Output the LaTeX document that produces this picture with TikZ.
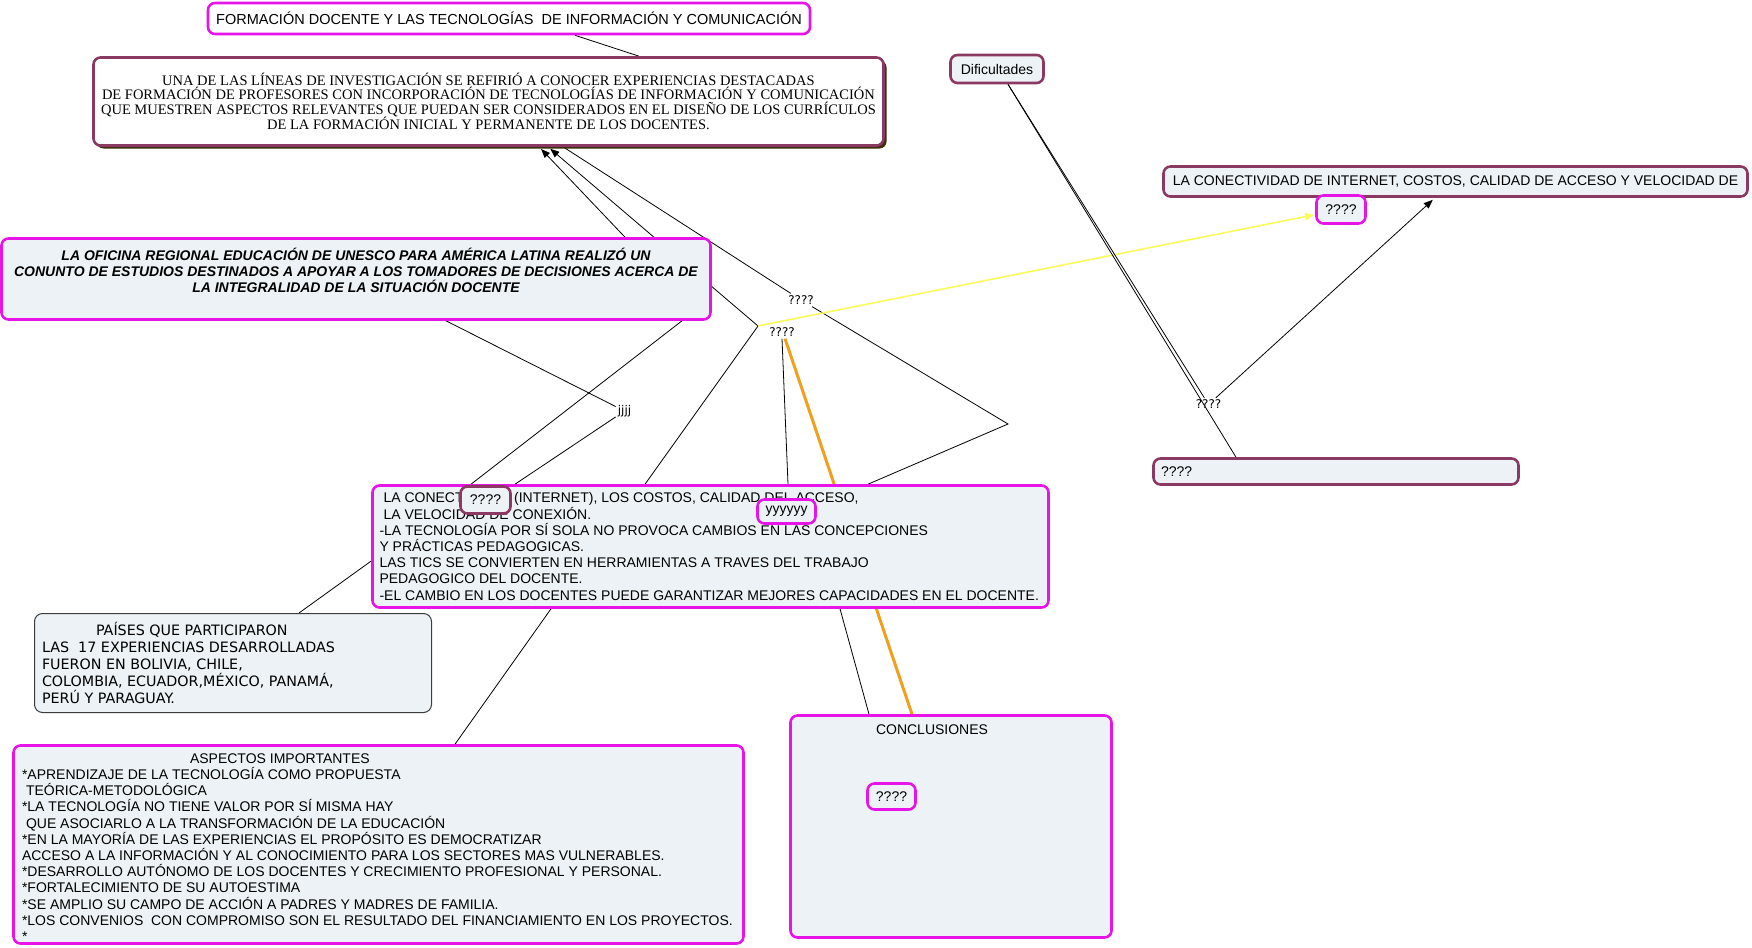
\documentclass[tikz,border=0pt]{standalone}
\usepackage{fontspec}
\setmainfont{Liberation Sans}
\newfontfamily\mapserif{Liberation Serif}
\newfontfamily\mapverdana{DejaVu Sans}
\usetikzlibrary{arrows.meta,shadows}
\definecolor{magborder}{RGB}{230,20,230}
\definecolor{marborder}{RGB}{139,56,98}
\definecolor{boxfill}{RGB}{236,242,245}
\definecolor{sombra}{RGB}{58,48,12}
\definecolor{naranja}{RGB}{240,160,30}
\definecolor{amarillo}{RGB}{250,250,90}
\definecolor{grisborde}{RGB}{60,60,60}
\pgfdeclarelayer{background}
\pgfsetlayers{background,main}
\newcommand{\mapfont}{\fontsize{14}{16.2}\selectfont}
\begin{document}
\begin{tikzpicture}[x=1pt, y=-1pt, line join=round, line cap=round, >={Triangle[length=9pt,width=7pt]},
	magbox/.style={draw=magborder, line width=2.6pt, rounded corners=7pt, fill=boxfill, inner sep=0pt, font=\mapfont},
	marbox/.style={draw=marborder, line width=2.6pt, rounded corners=7pt, fill=boxfill, inner sep=0pt, font=\mapfont},
	enlace/.style={font=\fontsize{12}{14}\selectfont\mapverdana, inner sep=2pt},
	link/.style={line width=0.8pt}]
	\useasboundingbox (0,0) rectangle (1752,947);
	\node[magbox, fill=white, minimum width=602pt, minimum height=31pt, font=\fontsize{14.5}{16}\selectfont] (titulo) at (509,18.5) {FORMACIÓN DOCENTE Y LAS TECNOLOGÍAS\ \ DE INFORMACIÓN Y COMUNICACIÓN};
	\node[marbox, fill=white, minimum width=790pt, minimum height=88pt, align=center, font=\mapserif\fontsize{14.5}{14.3}\selectfont,
		drop shadow={shadow xshift=3pt, shadow yshift=-3pt, opacity=1, fill=sombra}] (principal) at (488.5,101.5)
		{UNA DE LAS LÍNEAS DE INVESTIGACIÓN SE REFIRIÓ A CONOCER EXPERIENCIAS DESTACADAS\\
		DE FORMACIÓN DE PROFESORES CON INCORPORACIÓN DE TECNOLOGÍAS DE INFORMACIÓN Y COMUNICACIÓN\\
		QUE MUESTREN ASPECTOS RELEVANTES QUE PUEDAN SER CONSIDERADOS EN EL DISEÑO DE LOS CURRÍCULOS\\
		DE LA FORMACIÓN INICIAL Y PERMANENTE DE LOS DOCENTES.};
	\node[marbox, minimum width=93pt, minimum height=28pt] (dificultades) at (997,69) {Dificultades};
	\node[marbox, minimum width=584pt, minimum height=30pt] (conectividad) at (1455.5,181.5) {LA CONECTIVIDAD DE INTERNET, COSTOS, CALIDAD DE ACCESO Y VELOCIDAD DE};
	\node[magbox, minimum width=49pt, minimum height=28pt] (preguntaTop) at (1341,209.5) {????};
	\node[magbox, minimum width=709pt, minimum height=81pt, font=\mapfont\bfseries\itshape] (oficina) at (356,279)
		{\parbox[c][62pt][t]{700pt}{\centering LA OFICINA REGIONAL EDUCACIÓN DE UNESCO PARA AMÉRICA LATINA REALIZÓ UN\\
		CONUNTO DE ESTUDIOS DESTINADOS A APOYAR A LOS TOMADORES DE DECISIONES ACERCA DE\\
		LA INTEGRALIDAD DE LA SITUACIÓN DOCENTE}};
	\node[enlace] (enlaceA) at (801,300) {????};
	\node[enlace] (enlaceB) at (782,332) {????};
	\node[enlace] (enlaceJ) at (624.5,411) {jjjj};
	\node[enlace] (enlaceC) at (1208.5,404.5) {????};
	\coordinate (nodoB) at (758,326);
	\coordinate (codo) at (1008,424);
	\node[marbox, minimum width=365pt, minimum height=26pt] (preguntaDer) at (1336,471.5) {\parbox{350pt}{????}};
	\node[magbox, minimum width=676pt, minimum height=122pt] (hallazgos) at (710.5,546.5)
		{\parbox{662pt}{\raggedright
		\hspace*{4pt}LA CONECTIVIDAD (INTERNET), LOS COSTOS, CALIDAD DEL ACCESO,\\
		\hspace*{4pt}LA VELOCIDAD DE CONEXIÓN.\\
		-LA TECNOLOGÍA POR SÍ SOLA NO PROVOCA CAMBIOS EN LAS CONCEPCIONES\\
		Y PRÁCTICAS PEDAGOGICAS.\\
		LAS TICS SE CONVIERTEN EN HERRAMIENTAS A TRAVES DEL TRABAJO\\
		PEDAGOGICO DEL DOCENTE.\\
		-EL CAMBIO EN LOS DOCENTES PUEDE GARANTIZAR MEJORES CAPACIDADES EN EL DOCENTE.}};
	\node[marbox, minimum width=50pt, minimum height=27pt] (preguntaMed) at (485.5,500) {????};
	\node[magbox, minimum width=58pt, minimum height=24pt] (yyy) at (786.5,511.5) {yyyyyy};
	\node[draw=grisborde, line width=1pt, rounded corners=8pt, fill=boxfill, inner sep=0pt, minimum width=397pt, minimum height=99pt,
		font=\mapverdana\fontsize{14.3}{17.2}\selectfont] (paises) at (233,663)
		{\parbox{382pt}{\raggedright
		\hspace*{54pt}PAÍSES QUE PARTICIPARON\\
		LAS\ \ 17 EXPERIENCIAS DESARROLLADAS\\
		FUERON EN BOLIVIA, CHILE,\\
		COLOMBIA, ECUADOR,MÉXICO, PANAMÁ,\\
		PERÚ Y PARAGUAY.}};
	\node[magbox, minimum width=730pt, minimum height=198pt] (aspectos) at (378.5,844.5)
		{\parbox[c][194pt][c]{713pt}{\raggedright\vspace*{6pt}
		\hspace*{168pt}ASPECTOS IMPORTANTES\\
		{}*APRENDIZAJE DE LA TECNOLOGÍA COMO PROPUESTA\\
		\hspace*{4pt}TEÓRICA-METODOLÓGICA\\
		{}*LA TECNOLOGÍA NO TIENE VALOR POR SÍ MISMA HAY\\
		\hspace*{4pt}QUE ASOCIARLO A LA TRANSFORMACIÓN DE LA EDUCACIÓN\\
		{}*EN LA MAYORÍA DE LAS EXPERIENCIAS EL PROPÓSITO ES DEMOCRATIZAR\\
		ACCESO A LA INFORMACIÓN Y AL CONOCIMIENTO PARA LOS SECTORES MAS VULNERABLES.\\
		{}*DESARROLLO AUTÓNOMO DE LOS DOCENTES Y CRECIMIENTO PROFESIONAL Y PERSONAL.\\
		{}*FORTALECIMIENTO DE SU AUTOESTIMA\\
		{}*SE AMPLIO SU CAMPO DE ACCIÓN A PADRES Y MADRES DE FAMILIA.\\
		{}*LOS CONVENIOS\ \ CON COMPROMISO SON EL RESULTADO DEL FINANCIAMIENTO EN LOS PROYECTOS.\\
		{}*}};
	\node[magbox, minimum width=321pt, minimum height=222pt] (conclusiones) at (951,826.5)
		{\parbox[c][203pt][t]{300pt}{\centering\hspace*{-38pt}CONCLUSIONES}};
	\node[magbox, minimum width=48pt, minimum height=26pt] (preguntaConc) at (891.5,796.5) {????};
	\begin{pgfonlayer}{background}
		\draw[link] (titulo.south -| 575,0) -- (principal.north -| 639,0);
		\draw[link,->,shorten >=3pt] (oficina.north -| 625,0) -- (principal.south -| 539,0);
		\draw[link,->,shorten >=3pt] (nodoB) -- (principal.south -| 548,0);
		\draw[link] (principal.south -| 563,0) -- (enlaceA);
		\draw[link] (enlaceA) -- (codo) -- (hallazgos.north -| 868,0);
		\draw[link] (oficina.south -| 446,0) -- (enlaceJ);
		\draw[link] (enlaceJ) -- (hallazgos.north -| 515,0);
		\draw[link] (oficina.south -| 682,0) -- (hallazgos.north -| 471,0);
		\draw[link] (nodoB) -- (hallazgos.north -| 645,0);
		\draw[link] (enlaceB.south) -- (hallazgos.north -| 788,0);
		\draw[line width=3pt, naranja] ([xshift=3pt]enlaceB.south) -- (conclusiones.north -| 912,0);
		\draw[line width=1.6pt, amarillo, ->, shorten >=1pt] (nodoB) -- (preguntaTop);
		\draw[link] (hallazgos.west |- 0,561) -- (paises.north -| 299,0);
		\draw[link] (hallazgos.south -| 551,0) -- (aspectos.north -| 455,0);
		\draw[link] (hallazgos.south -| 840,0) -- (conclusiones.north -| 869,0);
		\draw[link] (dificultades.south -| 1008,0) -- (enlaceC);
		\draw[link] (dificultades.south -| 1008,0) -- (preguntaDer.north -| 1236,0);
		\draw[link,->,shorten >=3pt] (enlaceC) -- (conectividad.south -| 1435,0);
	\end{pgfonlayer}
\end{tikzpicture}
\end{document}
